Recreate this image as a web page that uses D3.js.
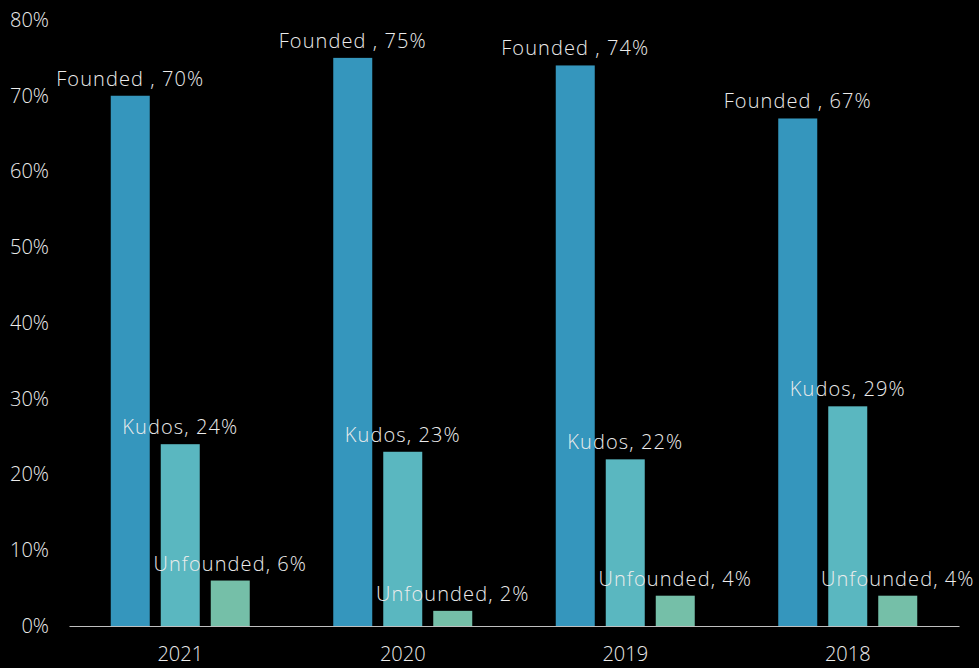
<!DOCTYPE html>
<html lang="en">
<head>
  <meta charset="UTF-8">
  <title>Founded / Kudos / Unfounded</title>
  <script src="https://d3js.org/d3.v7.min.js"></script>
  <style>
    html, body {
      margin: 0;
      padding: 0;
      background: #000;
    }
    text {
      font-family: "Open Sans", "DejaVu Sans", sans-serif;
      font-weight: 300;
      fill: #ececec;
    }
    .tick text {
      font-size: 20px;
    }
    .bar-label {
      font-size: 20px;
      letter-spacing: 1.1px;
    }
  </style>
</head>
<body>
  <svg id="chart" width="979" height="668"></svg>
  <script>
    // data
    const years = ["2021", "2020", "2019", "2018"];
    const series = ["Founded ", "Kudos", "Unfounded"];
    const founded = [0.70, 0.75, 0.74, 0.67];
    const kudos = [0.24, 0.23, 0.22, 0.29];
    const unfounded = [0.06, 0.02, 0.04, 0.04];
    const colors = ["#3596bd", "#5ab7c0", "#75bfa8"];
    const yTicks = [0, 0.1, 0.2, 0.3, 0.4, 0.5, 0.6, 0.7, 0.8];

    const values = [founded, kudos, unfounded];
    const rows = [];
    years.forEach((y, i) => {
      series.forEach((s, j) => rows.push({ year: y, series: s, value: values[j][i], color: colors[j] }));
    });

    const width = 979, height = 668;
    const margin = { top: 20, right: 20, bottom: 42, left: 69 };

    const svg = d3.select("#chart");

    const x = d3.scaleBand()
      .domain(years)
      .range([margin.left, width - margin.right]);

    // bars inside one year group
    const groupWidth = 139;
    const xSub = d3.scaleBand()
      .domain(series)
      .range([0, groupWidth])
      .paddingInner(0.22);

    const y = d3.scaleLinear()
      .domain([0, 0.8])
      .range([height - margin.bottom, margin.top]);

    // y axis, no line, no ticks
    svg.append("g")
      .attr("transform", `translate(${margin.left - 20},0)`)
      .call(d3.axisLeft(y).tickValues(yTicks).tickFormat(d3.format(".0%")).tickSize(0).tickPadding(0))
      .call(g => g.select(".domain").remove());

    // x axis
    svg.append("g")
      .attr("transform", `translate(0,${height - margin.bottom})`)
      .call(d3.axisBottom(x).tickSize(0).tickPadding(21))
      .call(g => g.select(".domain").attr("stroke", "#bfbfbf").attr("stroke-width", 1.2));

    const groups = svg.append("g")
      .selectAll("g")
      .data(rows)
      .join("g")
      .attr("transform", d => `translate(${x(d.year) + x.bandwidth() / 2 - groupWidth / 2},0)`);

    groups.append("rect")
      .attr("x", d => xSub(d.series))
      .attr("width", xSub.bandwidth())
      .attr("y", d => y(d.value))
      .attr("height", d => y(0) - y(d.value))
      .attr("fill", d => d.color);

    groups.append("text")
      .attr("class", "bar-label")
      .attr("x", d => xSub(d.series) + xSub.bandwidth() / 2)
      .attr("y", d => y(d.value) - 10)
      .attr("text-anchor", "middle")
      .text(d => `${d.series}, ${d3.format(".0%")(d.value)}`);
  </script>
</body>
</html>
